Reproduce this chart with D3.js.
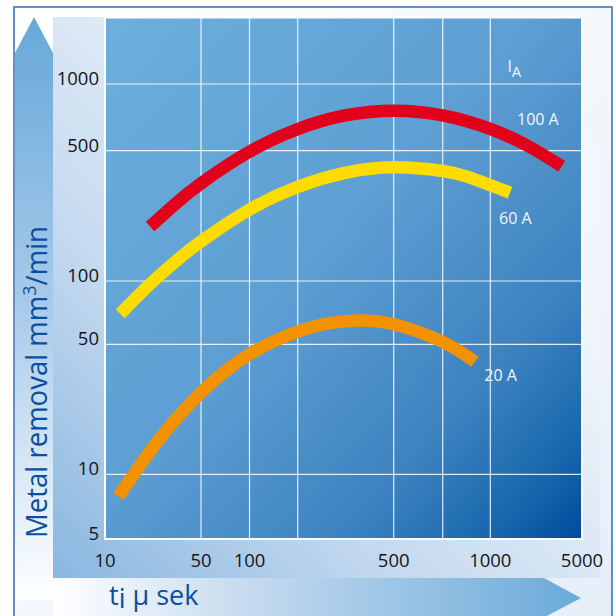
<!DOCTYPE html>
<html><head><meta charset="utf-8">
<script src="https://cdn.jsdelivr.net/npm/d3@7"></script>
<style>html,body{margin:0;padding:0;background:#fff}svg{display:block}</style>
</head><body>
<svg id="c" width="616" height="616"></svg>
<script>
// ---- data ----
const xTickValues = [10, 50, 100, 500, 1000, 5000];
const xGridValues = [10, 50, 100, 200, 500, 700, 1000, 5000];
const yDomainValues = [5, 10, 50, 100, 500, 1000, 2000];
const yTickValues = [5, 10, 50, 100, 500, 1000];
const yGridValues = [10, 50, 100, 500, 1000];
const seriesNames = ["100 A", "60 A", "20 A"];
const seriesColors = ["#e2001a", "#ffdc00", "#f39200"];
const red100 = [[21.3,196],[32.3,258],[50,334],[100,494],[200,626],[314,721],[500,758],[700,722],[1000,627],[2008,519],[3504,412]];
const yellow60 = [[12.9,69.8],[21.3,96.7],[32.3,126.6],[50,163],[100,241.5],[200,320],[314,380],[500,407],[700,389],[859,359],[1413,298]];
const orange20 = [[12.5,7.9],[16.5,10.2],[25.1,15.6],[50,27.5],[100,44.3],[200,57.5],[272,63.1],[356,64.9],[500,62.3],[700,51.3],[891,40.3]];
const seriesData = [red100, yellow60, orange20];
const labelPos = [[1598,653],[1165,202],[956,31.7]];
const unitLabelPos = [1350, 1133];

// ---- layout ----
const svg = d3.select("#c");
const L = 105, T = 17.5, W = 477, H = 521.5;
const xRange = [0, 96, 144.5, 192.7, 288.7, 337.7, 385.3, 477].map(v => L + v);
const yRange = [521.5, 456.8, 326.8, 263.5, 133.2, 66.5, 0].map(v => T + v);
const x = d3.scaleLog().domain(xGridValues).range(xRange);
const y = d3.scaleLog().domain(yDomainValues).range(yRange);

const defs = svg.append("defs");
function lg(id, x1, y1, x2, y2, stops) {
  const g = defs.append("linearGradient").attr("id", id)
    .attr("x1", x1).attr("y1", y1).attr("x2", x2).attr("y2", y2);
  stops.forEach(s => g.append("stop").attr("offset", s[0]).attr("stop-color", s[1]).attr("stop-opacity", s[2] == null ? 1 : s[2]));
}
lg("bgG", 0, 0, 1, 1, [[0, "#ffffff"], [0.6, "#f2f6fb"], [1, "#e6eef8"]]);
lg("panelG", 0, 1, 0.9, 0.1, [[0, "#8ab7e0"], [0.35, "#c4d9ef"], [0.7, "#e8f0f9"], [1, "#ffffff", 0]]);
lg("plotG", 0, 0, 1, 1, [[0, "#6cafdc"], [0.45, "#5e9fd3"], [0.75, "#3c82c0"], [0.9, "#1767ad"], [1, "#004a9b"]]);
lg("yArrG", 0, 0, 0, 1, [[0, "#66a8d9"], [0.5, "#a9cbea"], [1, "#ffffff"]]);
lg("xArrG", 0, 0, 1, 0, [[0, "#ffffff"], [0.35, "#c8dcf0"], [1, "#6aaad9"]]);

// outer frame
svg.append("rect").attr("x", 14).attr("y", 7).attr("width", 598).attr("height", 620)
  .attr("fill", "url(#bgG)").attr("stroke", "#2c6db4").attr("stroke-width", 1.5);
// panel behind plot
svg.append("rect").attr("x", 53).attr("y", 17).attr("width", 547).attr("height", 561)
  .attr("fill", "url(#panelG)");
// y arrow
svg.append("path").attr("d", "M15,53 L34,17 L53,53 L53,600 L15,600 Z").attr("fill", "url(#yArrG)");
// x arrow
svg.append("path").attr("d", "M53,578 L544,578 L581,598 L544,617.5 L53,617.5 Z").attr("fill", "url(#xArrG)");

// plot area
svg.append("rect").attr("x", L).attr("y", T).attr("width", W).attr("height", H)
  .attr("fill", "url(#plotG)");
const grid = svg.append("g").attr("stroke", "#ffffff").attr("stroke-opacity", 0.85).attr("stroke-width", 1.2);
grid.selectAll("line.vx").data(xGridValues.slice(1, -1)).join("line")
  .attr("class", "vx")
  .attr("x1", d => x(d)).attr("x2", d => x(d)).attr("y1", T).attr("y2", T + H);
grid.selectAll("line.hy").data(yGridValues).join("line")
  .attr("class", "hy")
  .attr("y1", d => y(d)).attr("y2", d => y(d)).attr("x1", L).attr("x2", L + W);
svg.append("rect").attr("x", L).attr("y", T).attr("width", W).attr("height", H)
  .attr("fill", "none").attr("stroke", "#ffffff").attr("stroke-width", 2);

// curves
const line = d3.line().x(d => x(d[0])).y(d => y(d[1])).curve(d3.curveNatural);
svg.selectAll("path.series").data(seriesData).join("path")
  .attr("class", "series")
  .attr("d", d => line(d)).attr("fill", "none")
  .attr("stroke", (d, i) => seriesColors[i]).attr("stroke-width", 12.5)
  .attr("stroke-linecap", "butt");

// series labels
const lblFont = "'Open Sans', sans-serif";
svg.selectAll("text.sl").data(seriesNames).join("text")
  .attr("class", "sl")
  .attr("x", (d, i) => x(labelPos[i][0])).attr("y", (d, i) => y(labelPos[i][1]))
  .attr("fill", "#f2f6fb").attr("font-family", lblFont).attr("font-size", 16)
  .text(d => d);
const ia = svg.append("text").attr("x", x(unitLabelPos[0])).attr("y", y(unitLabelPos[1]))
  .attr("fill", "#f2f6fb").attr("font-family", lblFont).attr("font-size", 16);
ia.append("tspan").text("I");
ia.append("tspan").attr("dy", 5).attr("font-size", 15).text("A");

// tick labels
const tickFont = "'Open Sans', sans-serif";
svg.selectAll("text.yt").data(yTickValues).join("text")
  .attr("class", "yt").attr("x", 99).attr("y", d => y(d) + 1)
  .attr("text-anchor", "end").attr("font-family", tickFont).attr("font-size", 18.5).attr("fill", "#151515")
  .text(d => d);
svg.selectAll("text.xt").data(xTickValues).join("text")
  .attr("class", "xt").attr("x", d => x(d)).attr("y", 567)
  .attr("text-anchor", "middle").attr("font-family", tickFont).attr("font-size", 18.5).attr("fill", "#151515")
  .text(d => d);

// axis titles
const ytG = svg.append("g").attr("transform", "translate(47,382) rotate(-90)");
const yt = ytG.append("text")
  .attr("text-anchor", "middle").attr("font-family", tickFont).attr("font-size", 29).attr("fill", "#0b4f9e");
yt.append("tspan").text("Metal removal mm");
yt.append("tspan").attr("dy", -11).attr("font-size", 19).text("3");
yt.append("tspan").attr("dy", 11).text("/min");
const ytLen = yt.node().getComputedTextLength();
yt.attr("transform", `scale(${312 / ytLen},1)`);

const xt = svg.append("text").attr("x", 109).attr("y", 605)
  .attr("font-family", tickFont).attr("font-size", 27).attr("fill", "#0b4f9e");
xt.append("tspan").text("t");
xt.append("tspan").attr("dy", 3).text("i");
xt.append("tspan").attr("dy", -3).text(" µ sek");
</script>
</body></html>
